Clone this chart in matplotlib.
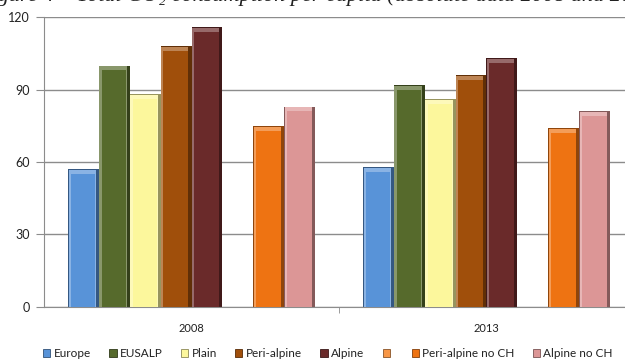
import numpy as np
import matplotlib.pyplot as plt
from matplotlib.patches import Patch
from matplotlib.colors import to_rgb

# dados por serie (2008, 2013)
anos = ['2008', '2013']
series = ['Europe', 'EUSALP', 'Plain', 'Peri-alpine', 'Alpine', '',
          'Peri-alpine no CH', 'Alpine no CH']
europe = [57, 58]
eusalp = [100, 92]
plain = [88, 86]
peri_alpine = [108, 96]
alpine = [116, 103]
sem_nome = [np.nan, np.nan]
peri_alpine_no_ch = [75, 74]
alpine_no_ch = [83, 81]

valores = [europe, eusalp, plain, peri_alpine, alpine, sem_nome,
           peri_alpine_no_ch, alpine_no_ch]
cores = ['#5893D8', '#566A2C', '#FCF79C', '#A04F0B', '#6A2A2A', '#F79646',
         '#EE7312', '#DC9696']


def escurece(cor, f):
    r, g, b = to_rgb(cor)
    return (r * f, g * f, b * f)


def clareia(cor, f):
    r, g, b = to_rgb(cor)
    return (r + (1 - r) * f, g + (1 - g) * f, b + (1 - b) * f)


plt.rcParams['font.family'] = ['Lato', 'DejaVu Sans']

fig = plt.figure(figsize=(6.25, 3.61), dpi=100)
ax = fig.add_axes([0.0704, 0.1504, 0.944, 0.8017])

x = np.arange(len(anos))
larg = 0.1047

ax.set_axisbelow(True)
ax.yaxis.grid(True, color='#8C8C8C', linewidth=1)

# barras com efeito de chanfro (base escura, faixa clara no topo, miolo)
for i, (vals, cor) in enumerate(zip(valores, cores)):
    pos = x + (i - 3.5) * larg
    vals = np.array(vals, dtype=float)
    if np.all(np.isnan(vals)):
        continue
    ax.bar(pos, vals, width=larg, color=escurece(cor, 0.6), zorder=2)
    ax.bar(pos - larg * 0.04, vals - 0.4, width=larg * 0.88,
           color=clareia(cor, 0.3), zorder=3)
    ax.bar(pos - larg * 0.01, vals - 2.0, width=larg * 0.80,
           color=cor, zorder=4)

ax.set_xlim(-0.5, 1.5)
ax.set_ylim(0, 120)
ax.set_yticks([0, 30, 60, 90, 120])
ax.set_xticks(x)
ax.set_xticklabels(anos)
ax.set_xticks([0.5], minor=True)
ax.tick_params(axis='x', which='major', length=0, labelsize=8, pad=12,
               colors='#222222')
ax.tick_params(axis='x', which='minor', length=4, color='#8C8C8C')
ax.tick_params(axis='y', length=6, color='#8C8C8C', labelsize=9,
               labelcolor='#222222', pad=4)

for lado in ['top', 'right']:
    ax.spines[lado].set_visible(False)
ax.spines['left'].set_color('#8C8C8C')
ax.spines['bottom'].set_color('#8C8C8C')

handles = [Patch(facecolor=c, edgecolor=escurece(c, 0.55), linewidth=0.6)
           for c in cores]
fig.legend(handles, series, loc='lower center', bbox_to_anchor=(0.525, -0.025),
           ncol=8, frameon=False, fontsize=8.5, handlelength=0.6,
           handleheight=0.6, handletextpad=0.3, columnspacing=1.55,
           labelcolor='#222222')

# titulo cortado no topo da imagem
fig.text(-0.035, 0.997, 'Figure 4 – Total CO\u2082 consumption per capita '
         '(absolute data 2008 and 2013)', family='Liberation Serif',
         style='italic', fontsize=16, color='#222222', va='baseline',
         ha='left')

fig.savefig('out.png', dpi=100)
